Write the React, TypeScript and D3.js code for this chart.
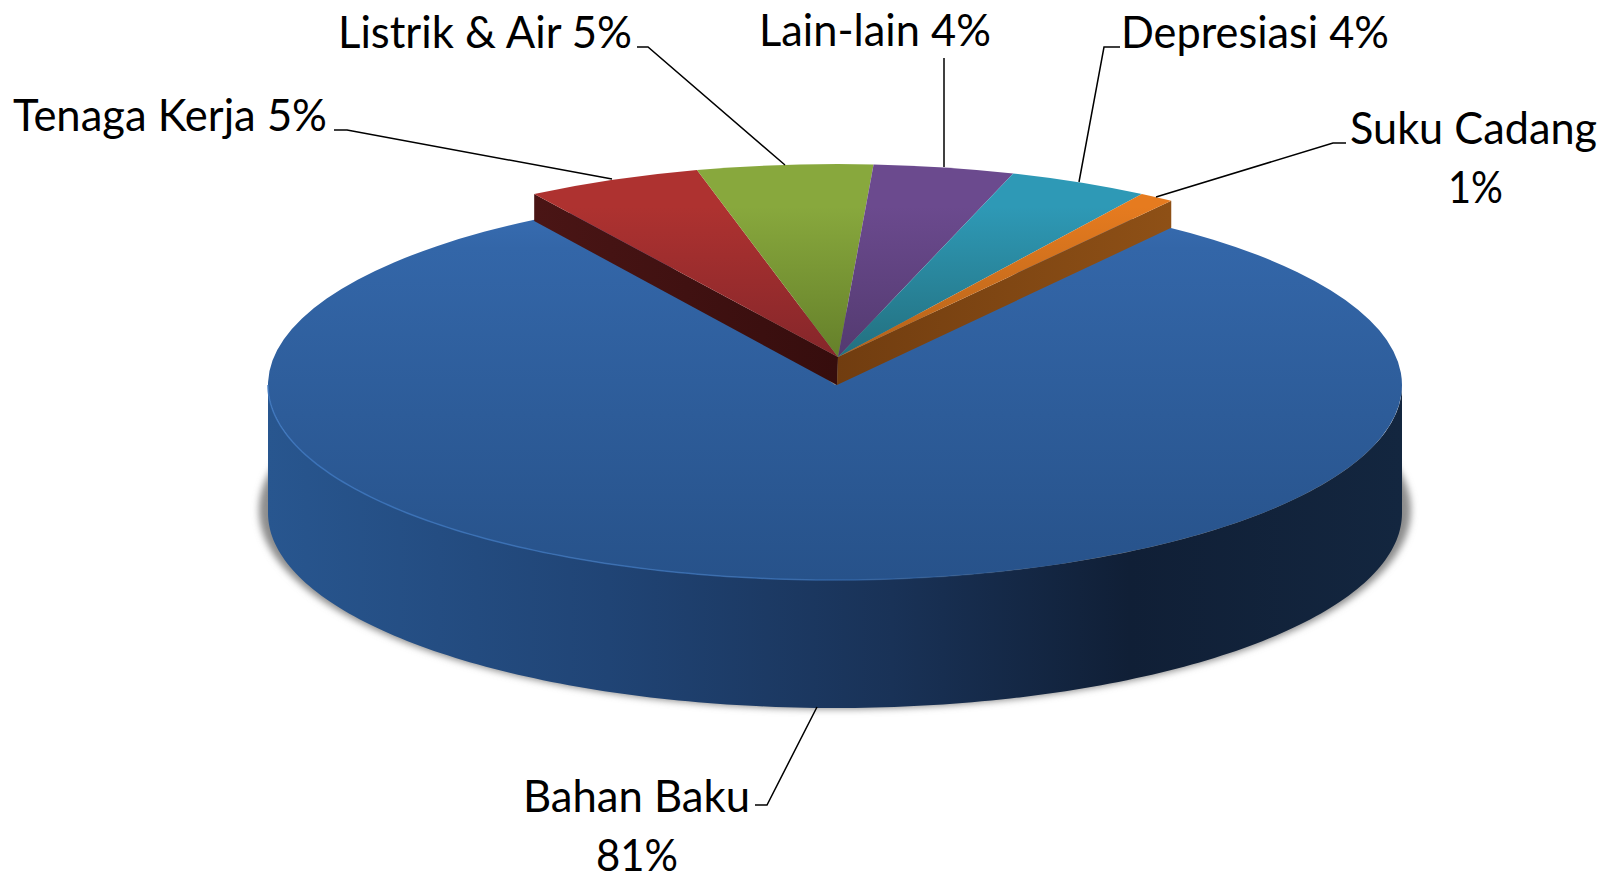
import React from "react";
import * as d3 from "d3";

// ---- data ----
const categories = ["Tenaga Kerja", "Listrik & Air", "Lain-lain", "Depresiasi", "Suku Cadang", "Bahan Baku"];
const values = [5, 5, 4, 4, 1, 81];
const topColors = ["#ae3230", "#88a83d", "#6b4a8e", "#2e99b6", "#e67b1f", "#3366a8"];
const bottomColors = ["#85262a", "#65802a", "#533a70", "#23707f", "#b2621a", "#27528a"];

// ---- layout ----
const W = 1604, H = 874;
const RX = 567, RY_TOP = 193, RY_BLUE = 195;
const raised = { cx: 838, cy: 357 };
const base = { cx: 835, cy: 385 };
const DEPTH = 128, WALL = 27;
const START = (-32.4 * Math.PI) / 180;
const FONT = "Lato, Carlito, sans-serif";
const FS = 44;

type Lab = { lines: string[]; x: number; ys: number[]; width: number[]; leader: [number, number][] };
const labelLayout: Lab[] = [
  { lines: ["Tenaga Kerja 5%"], x: 13, ys: [131], width: [314], leader: [[334, 130], [347, 130], [612, 179]] },
  { lines: ["Listrik & Air 5%"], x: 338, ys: [48], width: [294], leader: [[637, 47], [648, 47], [785, 165]] },
  { lines: ["Lain-lain 4%"], x: 759, ys: [46], width: [232], leader: [[944, 58], [944, 167]] },
  { lines: ["Depresiasi 4%"], x: 1121, ys: [48], width: [268], leader: [[1120, 47], [1104, 47], [1079, 182]] },
  { lines: ["Suku Cadang", "1%"], x: 1350, ys: [144, 203], width: [247, 55], leader: [[1346, 143], [1333, 143], [1156, 197]] },
  { lines: ["Bahan Baku", "81%"], x: 523, ys: [812, 871], width: [227, 82], leader: [[755, 805], [767, 805], [817, 707]] },
];
const lineX2 = [0, 0, 0, 0, 1448, 596];

export default function App() {
  const pie = d3.pie<number>().sort(null).startAngle(START).endAngle(START + 2 * Math.PI);
  const arcs = pie(values);
  const arc = d3.arc<d3.PieArcDatum<number>>().innerRadius(0).outerRadius(100);

  const small = arcs.slice(0, 5);
  const blue = arcs[5];
  // the blue wedge runs a little under the raised slices so no seam shows along their walls
  const blueWide = { ...blue, startAngle: blue.startAngle - 0.12, endAngle: blue.endAngle + 0.12 };

  // blue cylinder side
  const sideAngles = d3.range(90, 270.5, 1).map((d) => (d * Math.PI) / 180);
  const side = d3
    .area<number>()
    .x((a) => base.cx + RX * Math.sin(a))
    .y0((a) => base.cy - RY_BLUE * Math.cos(a))
    .y1((a) => base.cy + DEPTH - RY_BLUE * Math.cos(a));
  const rim = d3
    .line<number>()
    .x((a) => base.cx + RX * Math.sin(a))
    .y((a) => base.cy - RY_BLUE * Math.cos(a));
  const shadow = d3
    .line<number>()
    .x((a) => base.cx + 576 * Math.sin(a))
    .y((a) => 510 - 199 * Math.cos(a));
  const fullAngles = d3.range(0, 361, 2).map((d) => (d * Math.PI) / 180);

  const wallPath = (angle: number) => {
    const px = raised.cx + RX * Math.sin(angle);
    const py = raised.cy - RY_TOP * Math.cos(angle);
    return d3.line()([
      [px, py],
      [raised.cx, raised.cy],
      [raised.cx - 1, raised.cy + WALL + 1],
      [px, py + WALL],
    ]);
  };

  return (
    <svg
      width={W}
      height={H}
      viewBox={`0 0 ${W} ${H}`}
      style={{ position: "absolute", left: 0, top: 0, background: "#fff", display: "block" }}
    >
      <defs>
        {arcs.map((a, i) => (
          <linearGradient
            key={i}
            id={`top${i}`}
            gradientUnits="userSpaceOnUse"
            x1="0"
            x2="0"
            y1={-100}
            y2={i === 5 ? 100 : 0}
          >
            <stop offset="0%" stopColor={i === 5 ? "#3a70b6" : topColors[i]} />
            <stop offset={i === 5 ? "15%" : "22%"} stopColor={topColors[i]} />
            <stop offset="100%" stopColor={bottomColors[i]} />
          </linearGradient>
        ))}
        <linearGradient id="side" gradientUnits="userSpaceOnUse" x1={268} x2={1402} y1="0" y2="0">
          <stop offset="0%" stopColor="#28568f" />
          <stop offset="30%" stopColor="#204475" />
          <stop offset="55%" stopColor="#193257" />
          <stop offset="76%" stopColor="#101f36" />
          <stop offset="100%" stopColor="#13263f" />
        </linearGradient>
        <linearGradient id="rim" gradientUnits="userSpaceOnUse" x1={268} x2={1402} y1="0" y2="0">
          <stop offset="0%" stopColor="#3c75bd" stopOpacity="0.9" />
          <stop offset="45%" stopColor="#3c75bd" stopOpacity="0.7" />
          <stop offset="70%" stopColor="#3c75bd" stopOpacity="0" />
        </linearGradient>
        <linearGradient id="wallL" gradientUnits="userSpaceOnUse" x1={535} x2={838} y1="0" y2="0">
          <stop offset="0%" stopColor="#4a1515" />
          <stop offset="100%" stopColor="#360d0d" />
        </linearGradient>
        <linearGradient id="wallR" gradientUnits="userSpaceOnUse" x1={838} x2={1170} y1="0" y2="0">
          <stop offset="0%" stopColor="#713d10" />
          <stop offset="100%" stopColor="#8e5016" />
        </linearGradient>
        <filter id="blur" x="-5%" y="-5%" width="110%" height="110%">
          <feGaussianBlur stdDeviation="3.5" />
        </filter>
      </defs>

      <path d={shadow(fullAngles) + "Z"} fill="#8c8c8c" filter="url(#blur)" />
      <path d={side(sideAngles) ?? ""} fill="url(#side)" />
      <path
        d={arc(blueWide) ?? ""}
        transform={`translate(${base.cx},${base.cy}) scale(${RX / 100},${RY_BLUE / 100})`}
        fill="url(#top5)"
      />
      <path d={rim(sideAngles) ?? ""} fill="none" stroke="url(#rim)" strokeWidth={1.5} />

      <path d={wallPath(small[0].startAngle) ?? ""} fill="url(#wallL)" />
      <path d={wallPath(small[4].endAngle) ?? ""} fill="url(#wallR)" />
      {small.map((a, i) => (
        <path
          key={i}
          d={arc(a) ?? ""}
          transform={`translate(${raised.cx},${raised.cy}) scale(${RX / 100},${RY_TOP / 100})`}
          fill={`url(#top${i})`}
        />
      ))}

      {labelLayout.map((l, i) => (
        <g key={categories[i]}>
          <path d={d3.line()(l.leader) ?? ""} fill="none" stroke="#000" strokeWidth={1.5} />
          {l.lines.map((t, j) => (
            <text
              key={j}
              x={j === 0 ? l.x : lineX2[i]}
              y={l.ys[j]}
              fontFamily={FONT}
              fontSize={FS}
              fill="#000"
              textLength={l.width[j]}
              lengthAdjust="spacingAndGlyphs"
            >
              {t}
            </text>
          ))}
        </g>
      ))}
    </svg>
  );
}
